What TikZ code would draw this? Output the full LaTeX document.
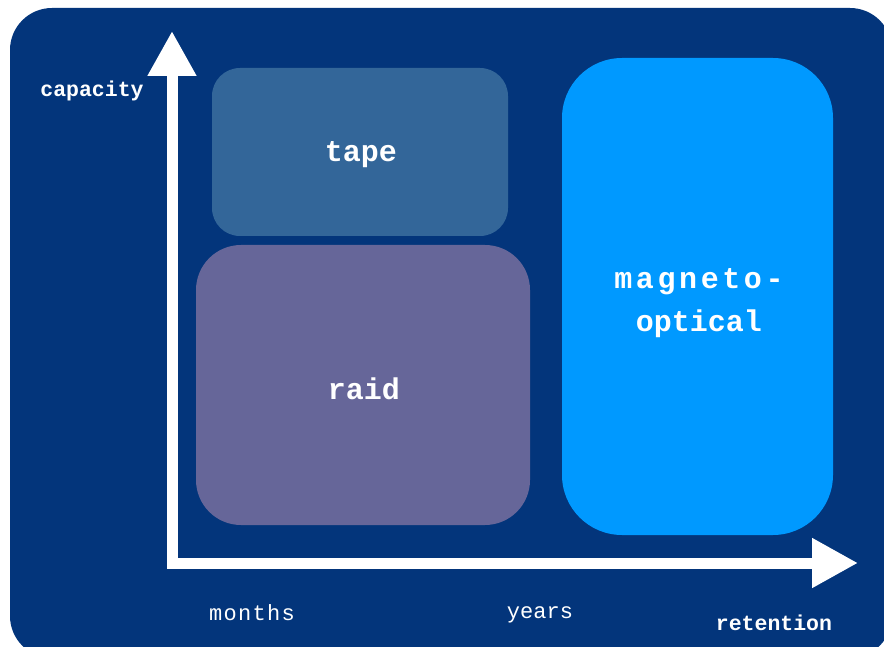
\documentclass[tikz,border=0pt]{standalone}
\usepackage{fontspec}
\usetikzlibrary{arrows.meta}
\newfontfamily\monofont{Liberation Mono}
\newfontfamily\monowide[LetterSpace=12]{Liberation Mono}
\newfontfamily\monoloose[LetterSpace=6]{Liberation Mono}
\definecolor{panelblue}{HTML}{03357B}
\definecolor{tapeblue}{HTML}{336699}
\definecolor{raidviolet}{HTML}{666699}
\definecolor{moblue}{HTML}{0099FF}
\tikzset{
  media/.style={rounded corners=#1, inner sep=0pt},
  medialabel/.style={text=white, inner sep=0pt, align=center,
    font=\monofont\bfseries\fontsize{30}{43}\selectfont},
  axislabel/.style={text=white, inner sep=0pt,
    font=\monofont\bfseries\fontsize{21.5}{24}\selectfont},
  ticklabel/.style={text=white, inner sep=0pt,
    font=\monofont\fontsize{22}{24}\selectfont},
  axisline/.style={draw=white, line width=11pt, line join=miter,
    {Triangle[length=45pt,width=46pt]}-{Triangle[length=46pt,width=47pt]}}
}
\begin{document}
\begin{tikzpicture}[x=1pt,y=-1pt]
  \useasboundingbox (0,0) rectangle (884,647);
  \fill[white] (0,0) rectangle (884,647);
  % dark panel behind everything
  \fill[panelblue, rounded corners=42pt] (10,8) rectangle (892,658);

  % storage media regions
  \node[media=28pt, fill=tapeblue, minimum width=296pt, minimum height=168pt]
    (tape) at (360,152) {};
  \node[media=45pt, fill=raidviolet, minimum width=334pt, minimum height=280pt]
    (raid) at (363,385) {};
  \node[media=60pt, fill=moblue, minimum width=271pt, minimum height=477pt]
    (mo) at (697.5,296.5) {};
  \node[medialabel] (tapetext) at (361,155) {tape};
  \node[medialabel] (raidtext) at (364,389) {raid};
  \node[medialabel] (motext) at (699,303)
    {{\monowide magneto-}\\optical};

  % axes
  \coordinate (ytop) at (172,31);
  \coordinate (origin) at (172,563);
  \coordinate (xend) at (858,563);
  \draw[axisline] (ytop) -- (origin) -- (xend);

  % axis labels
  \node[axislabel] (capacity) at (92,91) {capacity};
  \node[axislabel] (retention) at (774,623) {retention};
  \node[ticklabel, font=\monoloose\fontsize{22}{24}\selectfont] (months) at (252,613) {months};
  \node[ticklabel] (years) at (540,615) {years};
\end{tikzpicture}
\end{document}
